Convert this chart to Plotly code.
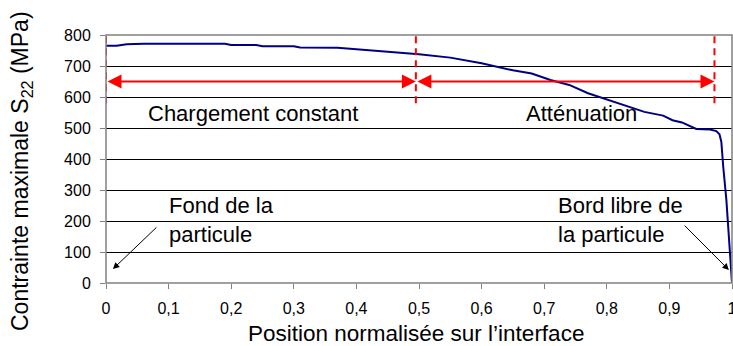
import plotly.graph_objects as go

# courbe S22 le long de l'interface
POS = [0, 0.017, 0.033, 0.06, 0.19, 0.2, 0.24, 0.25, 0.3, 0.31, 0.37, 0.42, 0.45, 0.5,
       0.55, 0.58, 0.6, 0.65, 0.68, 0.71, 0.74, 0.77, 0.81, 0.86, 0.89, 0.905, 0.92,
       0.943, 0.965, 0.975, 0.98, 0.983, 0.986, 0.991, 0.997, 1.0]
S22 = [765, 765, 770, 772, 772, 768, 768, 764, 764, 760, 759, 751, 745, 738,
       727, 716, 709, 686, 676, 655, 639, 612, 585, 552, 540, 525, 518,
       497, 495, 490, 480, 455, 375, 268, 90, 0]

# zones : limites et niveau des flèches
ZONE_BOUNDS = [0, 0.495, 0.972]
ZONE_LABELS = ["Chargement constant", "Atténuation"]
ARROW_LEVEL = 650
DASH_RANGE = [580, 800]

X_TICKS = [round(0.1 * i, 1) for i in range(11)]
Y_TICKS = list(range(0, 801, 100))

FONT = "Liberation Sans, Arial, sans-serif"
RED = "#ff0000"
GRAY = "#808080"

fig = go.Figure()
fig.add_trace(go.Scatter(x=POS, y=S22, mode="lines",
                         line=dict(color="#000080", width=2), showlegend=False))

# pointillés rouges verticaux
for xb in ZONE_BOUNDS:
    fig.add_shape(type="line", x0=xb, x1=xb, y0=DASH_RANGE[0], y1=DASH_RANGE[1],
                  line=dict(color=RED, width=2, dash="7px,5px"), layer="above")

# flèches doubles rouges
ann = []
for a, b in zip(ZONE_BOUNDS[:-1], ZONE_BOUNDS[1:]):
    ann.append(dict(x=b, y=ARROW_LEVEL, ax=a, ay=ARROW_LEVEL, xref="x", yref="y",
                    axref="x", ayref="y", text="", showarrow=True, arrowside="end+start",
                    arrowhead=2, arrowsize=1.4, arrowwidth=2, arrowcolor=RED,
                    standoff=0, startstandoff=0))

ann += [
    dict(x=0.235, y=548, text=ZONE_LABELS[0], showarrow=False,
         font=dict(size=22, color="black", family=FONT)),
    dict(x=0.76, y=548, text=ZONE_LABELS[1], showarrow=False,
         font=dict(size=22, color="black", family=FONT)),
    dict(x=0.098, y=202, text="Fond de la<br>particule", showarrow=False, align="left",
         xanchor="left", font=dict(size=22, color="black", family=FONT)),
    dict(x=0.719, y=202, text="Bord libre de<br>la particule", showarrow=False, align="left",
         xanchor="left", font=dict(size=22, color="black", family=FONT)),
    dict(x=0.011, y=45, ax=0.083, ay=184, xref="x", yref="y", axref="x", ayref="y",
         text="", showarrow=True, arrowhead=2, arrowsize=1.3, arrowwidth=1,
         arrowcolor="black", standoff=0),
    dict(x=0.995, y=42, ax=0.922, ay=190, xref="x", yref="y", axref="x", ayref="y",
         text="", showarrow=True, arrowhead=2, arrowsize=1.3, arrowwidth=1,
         arrowcolor="black", standoff=0),
    # titres des axes
    dict(x=-0.134, y=0.452, xref="paper", yref="paper", textangle=-90, showarrow=False,
         xanchor="center", yanchor="middle",
         text="Contrainte maximale S<sub>22</sub> (MPa)",
         font=dict(size=23, color="black", family=FONT)),
    dict(x=0.495, y=-0.205, xref="paper", yref="paper", showarrow=False,
         xanchor="center", yanchor="middle",
         text="Position normalisée sur l’interface",
         font=dict(size=22.5, color="black", family=FONT)),
]

# cadre gris
fig.add_shape(type="rect", xref="paper", yref="paper", x0=0, x1=1, y0=0, y1=1,
              line=dict(color=GRAY, width=1.5), layer="above")

fig.update_layout(
    width=733, height=346,
    margin=dict(l=106, r=1, t=35, b=63),
    paper_bgcolor="white", plot_bgcolor="white",
    separators=", ",
    font=dict(family=FONT, color="black", size=16),
    annotations=ann,
    xaxis=dict(range=[0, 1], tickvals=X_TICKS, showgrid=False, zeroline=False,
               automargin=False, ticks="outside", ticklen=5, tickcolor=GRAY,
               ticklabelstandoff=6, tickfont=dict(size=16), ticklabeloverflow="allow",
               showline=False),
    yaxis=dict(range=[0, 800], tickvals=Y_TICKS, showgrid=True, gridcolor="black",
               gridwidth=1, zeroline=False, automargin=False, ticks="outside", ticklen=5,
               tickcolor=GRAY, ticklabelstandoff=6, tickfont=dict(size=16), showline=False),
)

# marge par défaut du body supprimée pour que la figure occupe toute la fenêtre
fig.write_html("out.html", config=dict(displayModeBar=False),
               post_script="document.body.style.margin = '0';")
